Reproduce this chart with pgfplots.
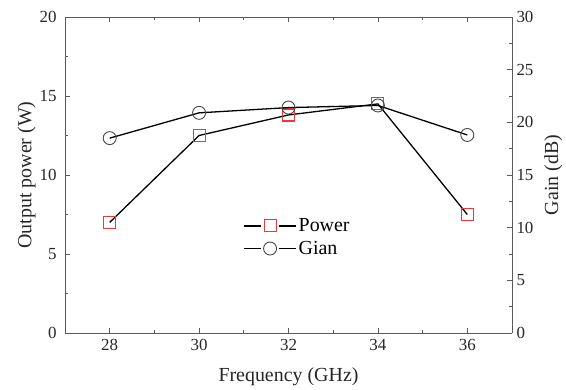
\documentclass[border=0pt]{standalone}
\usepackage{fontspec}
\setmainfont{Liberation Serif}
\usepackage{pgfplots}
\pgfplotsset{compat=1.18}
\definecolor{sqred}{RGB}{238,55,55}
\definecolor{framegray}{RGB}{90,90,90}
\definecolor{circgray}{RGB}{70,70,70}
\pgfplotsset{
  common/.style={
    scale only axis, width=447bp, height=316bp,
    xmin=27, xmax=37,
    tick align=inside,
    major tick length=5bp, minor tick length=3bp,
    every tick/.style={framegray, line width=0.8pt},
    axis line style={framegray, line width=0.9pt},
    tick label style={font=\fontsize{17}{20}\selectfont, text=black!85},
    label style={font=\fontsize{20}{24}\selectfont, text=black!85},
    /pgf/number format/assume math mode=true,
  }
}
\begin{document}
\begin{tikzpicture}
\begin{axis}[
  common,
  ymin=0, ymax=20,
  xtick={28,30,32,34,36}, minor xtick={29,31,33,35},
  ytick={0,5,10,15,20}, minor ytick={2.5,7.5,12.5,17.5},
  axis y line*=left,
  yticklabel style={xshift=-5bp},
  xticklabel style={yshift=-3bp},
  xlabel={Frequency (GHz)},
  ylabel={Output power (W)},
  xlabel style={yshift=-10bp},
  ylabel shift=-3bp,
  legend style={at={(0.392,0.303)}, anchor=west, draw=none, fill=none,
    font=\fontsize{20}{24}\selectfont, row sep=4bp},
  legend cell align=left,
  legend image code/.code={%
    \draw[black,line width=1.3pt] (0bp,0bp)--(17bp,0bp);
    \draw[black,line width=1.3pt] (35bp,0bp)--(52bp,0bp);
    \draw[#1,only marks] plot coordinates {(26bp,0bp)};},
]
\coordinate (bl) at (rel axis cs:0,0);
\coordinate (tr) at (rel axis cs:1,1);
\addplot[black, line width=1.3pt, mark=square, mark size=6bp,
  mark options={draw=sqred, fill=white, line width=1.1pt}]
  coordinates {(28,7.0) (30,12.5) (32,13.8) (34,14.5) (36,7.5)};
\addlegendentry{Power}
\addlegendimage{black, line width=1.3pt, mark=o, mark size=6.5bp,
  mark options={draw=circgray, fill=white, line width=0.9pt}}
\addlegendentry{Gian}
\end{axis}
\begin{axis}[
  common,
  ymin=0, ymax=30,
  axis x line=none,
  axis y line*=right,
  ytick={0,5,...,30}, minor ytick={2.5,7.5,...,27.5},
  yticklabel style={xshift=1bp},
  ylabel={Gain (dB)},
  ylabel shift=4bp,
]
\addplot[black, line width=1.3pt, mark=o, mark size=6.5bp,
  mark options={draw=circgray, fill=white, line width=0.9pt}]
  coordinates {(28,18.5) (30,20.9) (32,21.4) (34,21.6) (36,18.8)};
\end{axis}
\path (bl) ++(-65bp,-56bp) rectangle ++(1bp,1bp);
\path (tr) ++(54bp,17bp) rectangle ++(-1bp,-1bp);
\end{tikzpicture}
\end{document}
